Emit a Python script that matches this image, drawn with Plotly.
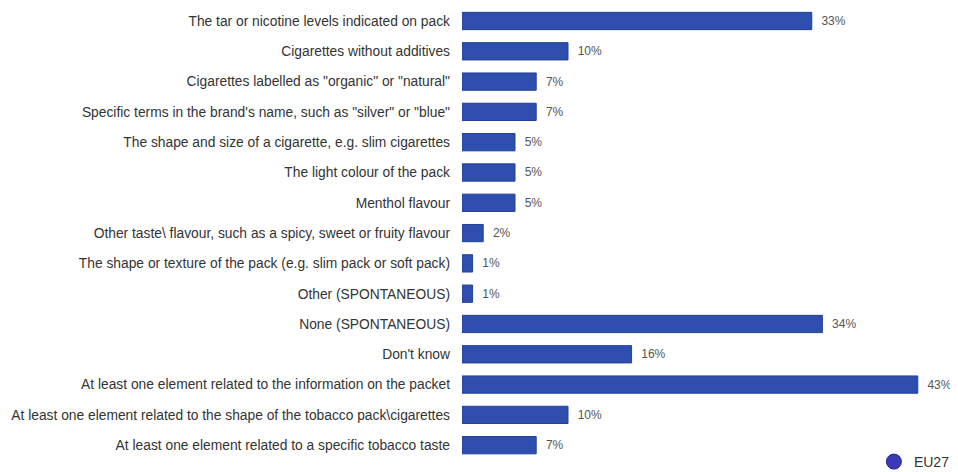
import plotly.graph_objects as go

categories = [
    "The tar or nicotine levels indicated on pack",
    "Cigarettes without additives",
    "Cigarettes labelled as \"organic\" or \"natural\"",
    "Specific terms in the brand's name, such as \"silver\" or \"blue\"",
    "The shape and size of a cigarette, e.g. slim cigarettes",
    "The light colour of the pack",
    "Menthol flavour",
    "Other taste\\ flavour, such as a spicy, sweet or fruity flavour",
    "The shape or texture of the pack (e.g. slim pack or soft pack)",
    "Other (SPONTANEOUS)",
    "None (SPONTANEOUS)",
    "Don't know",
    "At least one element related to the information on the packet",
    "At least one element related to the shape of the tobacco pack\\cigarettes",
    "At least one element related to a specific tobacco taste",
]
values = [33, 10, 7, 7, 5, 5, 5, 2, 1, 1, 34, 16, 43, 10, 7]
series_name = "EU27"

fig = go.Figure()
fig.add_trace(go.Bar(
    x=values,
    y=categories,
    orientation="h",
    marker=dict(color="#2f4fae", line=dict(color="#223f96", width=1)),
    text=[f"  {v}%" for v in values],
    textposition="outside",
    textfont=dict(size=12, color="#555555"),
    cliponaxis=False,
    showlegend=False,
))
# legend entry only
fig.add_trace(go.Scatter(
    x=[None], y=[None], mode="markers", name=series_name,
    marker=dict(symbol="circle", size=15, color="#3a3ab8",
                line=dict(color="#24248a", width=1)),
))

# page body has an 8px margin, so the figure is offset by 8px in the page
fig.update_layout(
    width=958, height=470,
    margin=dict(l=454, r=0, t=0, b=0, autoexpand=False),
    paper_bgcolor="white",
    plot_bgcolor="white",
    bargap=0.43,
    font=dict(family="Liberation Sans, Arial, sans-serif", size=13.8, color="#333333"),
    xaxis=dict(range=[0, 47.55], visible=False, fixedrange=True),
    yaxis=dict(range=[15.083, -0.429], showgrid=False, showline=False, ticks="",
               ticklabelstandoff=11, automargin=False,
               tickfont=dict(size=13.8, color="#333333")),
    legend=dict(x=0.978, y=0, xanchor="right", yanchor="bottom",
                xref="paper", yref="paper",
                font=dict(size=14, color="#333333"), bgcolor="rgba(0,0,0,0)",
                borderwidth=0, itemwidth=30),
)

fig.write_html("out.html")
